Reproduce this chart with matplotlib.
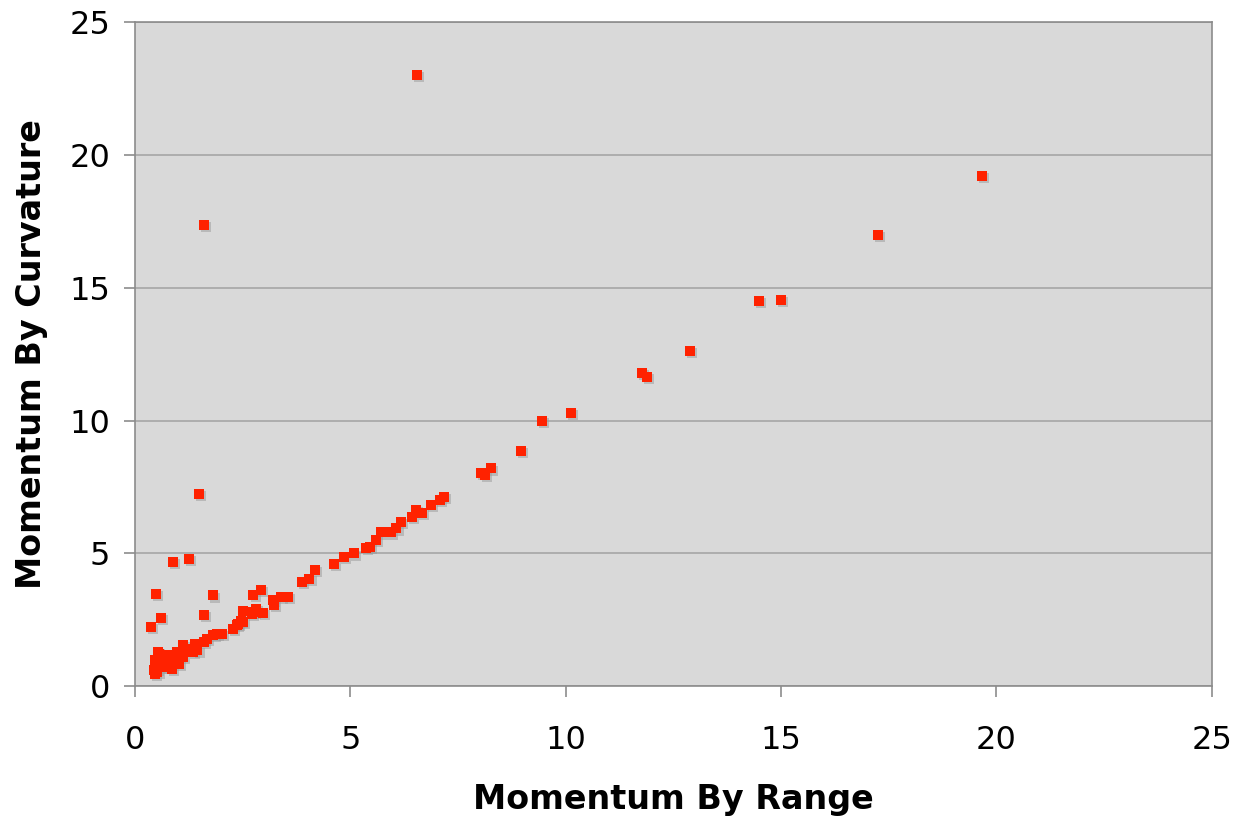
import matplotlib
matplotlib.use("Agg")
import matplotlib.pyplot as plt
from matplotlib.transforms import offset_copy

# momentum by range (x) vs momentum by curvature (y)
by_range = [
    6.55, 1.60, 19.66, 17.25, 14.48, 15.00, 12.88, 11.77, 11.88,
    10.12, 9.44, 8.95, 8.03, 8.12, 8.26, 7.17, 7.08, 6.87, 6.67, 6.52,
    6.44, 6.17, 6.07, 5.94, 5.71, 5.59, 5.45, 5.36, 5.09, 4.85, 4.62,
    4.18, 4.05, 3.87, 3.56, 3.39, 3.23, 3.20, 2.96, 2.81, 2.72, 2.92,
    2.75, 2.51, 2.51, 2.40, 2.28, 2.01, 1.49, 0.87, 1.25, 0.49, 1.80,
    0.60, 0.36, 1.59, 0.46, 0.50, 0.46, 0.56, 0.66, 0.74, 0.77, 0.85,
    0.97, 1.01, 1.11, 1.12, 1.35, 1.39, 1.59, 1.66, 1.82, 1.91, 2.46,
    0.66, 0.85, 2.36, 2.77, 0.44, 0.54, 0.62, 1.04, 0.57, 2.71,
    0.48, 0.52, 0.70, 0.93, 1.20, 1.45,
]
by_curvature = [
    23.0, 17.36, 19.2, 16.98, 14.5, 14.53, 12.61, 11.78, 11.63,
    10.29, 9.99, 8.87, 8.03, 7.94, 8.20, 7.13, 7.00, 6.84, 6.54, 6.65,
    6.37, 6.19, 5.94, 5.79, 5.79, 5.50, 5.24, 5.22, 5.00, 4.87, 4.59,
    4.37, 4.05, 3.93, 3.36, 3.36, 3.05, 3.24, 2.76, 2.92, 2.73, 3.61,
    3.43, 2.82, 2.42, 2.36, 2.17, 1.96, 7.25, 4.67, 4.81, 3.46, 3.42,
    2.57, 2.23, 2.67, 0.48, 0.67, 0.98, 1.20, 1.04, 0.73, 1.17, 0.92,
    1.29, 0.85, 1.54, 1.10, 1.29, 1.61, 1.67, 1.79, 1.92, 1.96, 2.46,
    0.73, 0.67, 2.30, 2.80, 0.60, 1.29, 0.92, 1.23, 1.17, 2.80,
    0.85, 0.55, 0.90, 1.05, 1.40, 1.35,
]

fig = plt.figure(figsize=(12.39, 8.18), dpi=100)
ax = fig.add_axes([0.109, 0.161, 0.869, 0.812])
ax.set_facecolor("#d9d9d9")

# soft drop shadow under each marker, like the spreadsheet export
shadow = offset_copy(ax.transData, fig=fig, x=1.5, y=-1.5, units="points")
ax.scatter(by_range, by_curvature, s=50, marker="s", color="#9a9a9a",
           alpha=0.5, linewidths=0, transform=shadow, zorder=2)
ax.scatter(by_range, by_curvature, s=50, marker="s", color="#ff2200",
           linewidths=0, zorder=3)

ax.set_xlim(0, 25)
ax.set_ylim(0, 25)
ax.set_xticks([0, 5, 10, 15, 20, 25])
ax.set_yticks([0, 5, 10, 15, 20, 25])
ax.yaxis.grid(True, color="#a6a6a6", linewidth=1.2)
ax.set_axisbelow(True)

for s in ax.spines.values():
    s.set_color("#8c8c8c")
    s.set_linewidth(1.2)

ax.tick_params(axis="both", direction="out", length=8, width=1.2,
               color="#8c8c8c", labelsize=23)
ax.tick_params(axis="x", pad=20)
ax.tick_params(axis="y", pad=10)

ax.set_xlabel("Momentum By Range", fontsize=24, fontweight="bold", labelpad=19)
ax.set_ylabel("Momentum By Curvature", fontsize=24, fontweight="bold", labelpad=15)

fig.savefig("out.png", dpi=100)
